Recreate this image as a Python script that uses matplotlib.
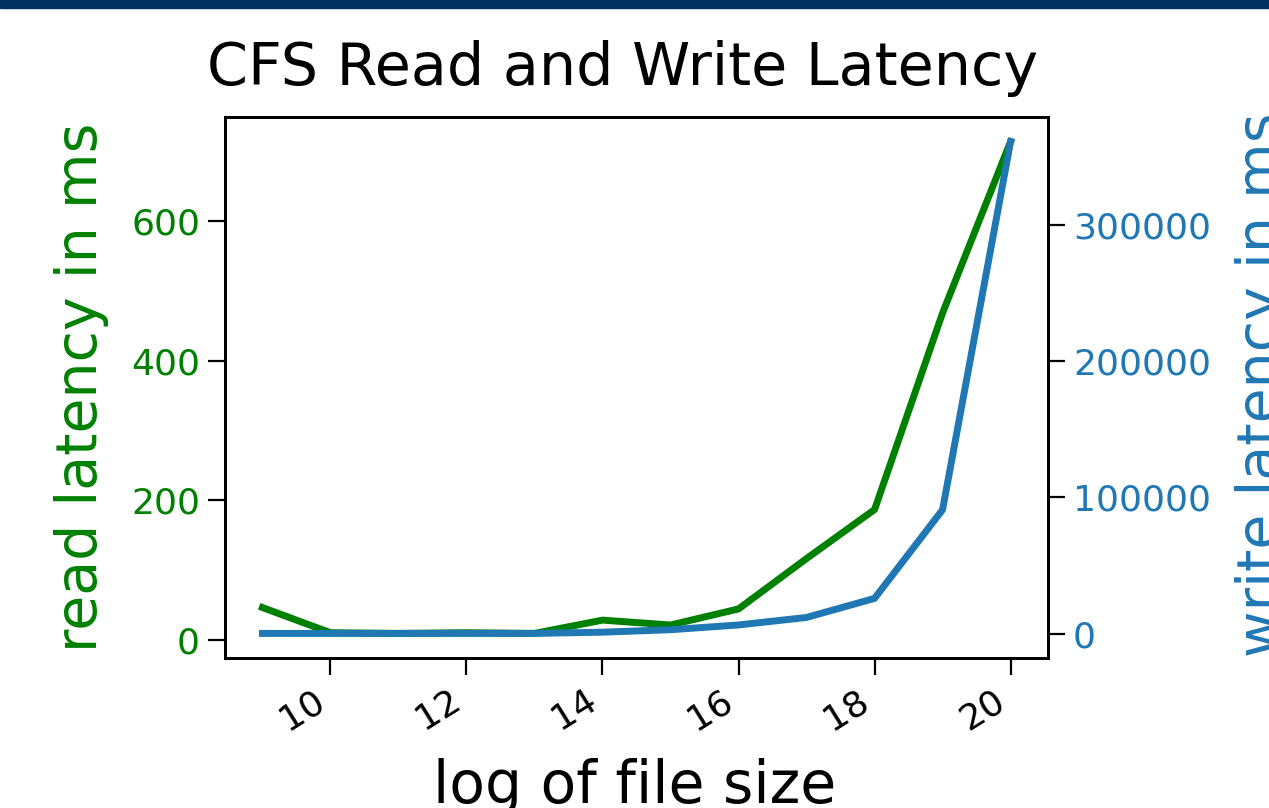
import matplotlib
matplotlib.use("Agg")
import matplotlib.pyplot as plt
from matplotlib.patches import Rectangle

# log2 of file size vs latency
log_size = [9, 10, 11, 12, 13, 14, 15, 16, 17, 18, 19, 20]
read_ms = [47, 11, 10, 11, 10, 29, 22, 45, 117, 187, 468, 713]
write_ms = [300, 300, 300, 300, 300, 1200, 3000, 6500, 12000, 26000, 91000, 361000]

W, H = 1269, 808
fig = plt.figure(figsize=(W / 100, H / 100), dpi=100)
fig.patches.append(Rectangle((0, 1 - 8 / H), 1, 8 / H, transform=fig.transFigure,
                             color='#02315f', zorder=5))

ax1 = fig.add_axes([225 / W, 150 / H, 823 / W, 541 / H])
ax1.plot(log_size, read_ms, color='green', linewidth=5)
ax2 = ax1.twinx()
ax2.plot(log_size, write_ms, color='tab:blue', linewidth=5)

for ax in (ax1, ax2):
    for s in ax.spines.values():
        s.set_linewidth(2)
    ax.tick_params(labelsize=26, length=12, width=1.6, pad=6)
ax1.tick_params(axis='y', labelcolor='green')
ax2.tick_params(axis='y', labelcolor='tab:blue')
plt.setp(ax1.get_xticklabels(), rotation=32, ha='right')

fig.text(623 / W, 1 - 85 / H, 'CFS Read and Write Latency', ha='center',
         va='baseline', fontsize=42.3)
fig.text(635 / W, 1 - 803 / H, 'log of file size', ha='center',
         va='baseline', fontsize=42)
fig.text(82 / W, 1 - 387 / H, 'read latency in ms', rotation=90, ha='center',
         va='center', fontsize=41, color='green')
fig.text(1262 / W, 1 - 385 / H, 'write latency in ms', rotation=90, ha='center',
         va='center', fontsize=41, color='tab:blue')

fig.savefig('out.png', dpi=100)
